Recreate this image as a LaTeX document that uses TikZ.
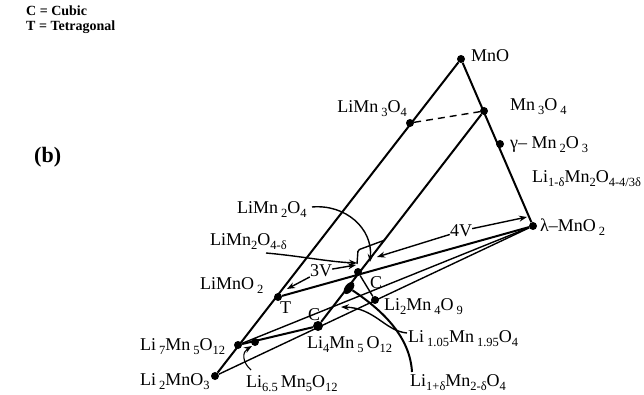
\documentclass[tikz,border=0pt]{standalone}
\usepackage{fontspec}
\setmainfont{Liberation Serif}
\usetikzlibrary{arrows.meta,shapes.geometric}
\newcommand{\sbs}[1]{\raisebox{-4pt}{\fontsize{12.5}{13}\selectfont #1}}
\begin{document}
\begin{tikzpicture}[x=1pt,y=-1pt,
  ln/.style={line width=2pt},
  tln/.style={line width=1.4pt},
  dot/.style={circle,fill=black,inner sep=0pt,minimum size=8pt},
  lbl/.style={font=\fontsize{18}{20}\selectfont, inner sep=0pt},
  arr/.style={-{Stealth[length=8pt,width=6pt]}, line width=1.4pt}
]
\useasboundingbox (0,0) rectangle (644,395);
% legend
\node[lbl, font=\fontsize{14}{16}\selectfont\bfseries, anchor=base west] (legC) at (26,16) {C = Cubic};
\node[lbl, font=\fontsize{14}{16}\selectfont\bfseries, anchor=base west] (legT) at (26,31) {T = Tetragonal};
\node[lbl, font=\fontsize{22}{24}\selectfont\bfseries, anchor=base west] (b) at (34,163) {(b)};
% points
\node[dot] (MnO) at (461,59) {};
\node[dot] (Mn3O4) at (484,111) {};
\node[dot] (gMn) at (500,144) {};
\node[dot] (lam) at (533,226) {};
\node[dot] (LiMn3O4) at (410,123) {};
\node[dot] (LiMnO2) at (278,297) {};
\node[dot] (Li7) at (238,345) {};
\node[dot] (Li2MnO3) at (215,376) {};
\node[dot] (Li65) at (255,342) {};
\node[dot, minimum size=10pt] (Li4) at (318,326) {};
\node[dot] (LiMn2O4) at (358,272) {};
\node[ellipse, fill=black, inner sep=0pt, minimum width=8pt, minimum height=14pt, rotate=-38] (Li105) at (349,288) {};
\node[dot] (Li2Mn4O9) at (375,300) {};
% tie lines
\draw[ln] (MnO) -- (Li2MnO3);
\draw[ln] (MnO) -- (lam);
\draw[ln] (Mn3O4) -- (Li4);
\draw[tln, dash pattern=on 7pt off 5pt] (LiMn3O4) -- (Mn3O4);
\draw[ln] (LiMnO2) -- (lam);
\draw[tln] (Li7) -- (lam);
\draw[tln] (Li2MnO3) -- (lam);
\draw[ln] (Li7) -- (Li4);
\draw[tln] (LiMn2O4) -- (Li2Mn4O9);
\draw[tln, rounded corners=1.5pt] (385,240) -- (358,250) -- (357,264);
% labels
\node[lbl, anchor=base west] (tMnO) at (471,62) {MnO};
\node[lbl, anchor=base west] (tMn3O4) at (510,111) {Mn\,\sbs{3}O\,\sbs{4}};
\node[lbl, anchor=base west] (tgMn) at (510,149) {γ– Mn\,\sbs{2}O\,\sbs{3}};
\node[lbl, anchor=base west] (tLid) at (532,183) {Li\sbs{1-δ}Mn\sbs{2}O\sbs{4-4/3δ}};
\node[lbl, anchor=base west] (tlam) at (540,231) {λ–MnO\,\sbs{2}};
\node[lbl, anchor=base east] (tLiMn3O4) at (407,113) {LiMn\,\sbs{3}O\sbs{4}};
\node[lbl, anchor=base west] (tLiMn2O4) at (237,213) {LiMn\,\sbs{2}O\sbs{4}};
\node[lbl, anchor=base west] (tLiMn2O4d) at (210,245) {LiMn\sbs{2}O\sbs{4-δ}};
\node[lbl, anchor=base west] (tLiMnO2) at (200,289) {LiMnO\,\sbs{2}};
\node[lbl, anchor=base west] (tT) at (280,313) {T};
\node[lbl, anchor=base west] (tC1) at (370,288) {C};
\node[lbl, anchor=base west] (tC2) at (308,320) {C};
\node[lbl] (v3) at (321,271) {3V};
\node[lbl] (v4) at (461,231) {4V};
\node[lbl, anchor=base west] (tLi2Mn4O9) at (384,310) {Li\sbs{2}Mn\,\sbs{4}O\,\sbs{9}};
\node[lbl, anchor=base west] (tLi105) at (408,342) {Li\,\sbs{1.05}Mn\,\sbs{1.95}O\sbs{4}};
\node[lbl, anchor=base west] (tLid2) at (410,386) {Li\sbs{1+δ}Mn\sbs{2-δ}O\sbs{4}};
\node[lbl, anchor=base west] (tLi4) at (307,348) {Li\sbs{4}Mn\,\sbs{5}\,O\sbs{12}};
\node[lbl, anchor=base west] (tLi65) at (246,387) {Li\sbs{6.5}\,Mn\sbs{5}O\sbs{12}};
\node[lbl, anchor=base west] (tLi7) at (140,350) {Li\,\sbs{7}Mn\,\sbs{5}O\sbs{12}};
\node[lbl, anchor=base west] (tLi2MnO3) at (140,385) {Li\,\sbs{2}MnO\sbs{3}};
% arrows
\coordinate (v3l) at (287,289);
\coordinate (v3r) at (356,265);
\coordinate (v4l) at (377,257);
\coordinate (v4r) at (527,217);
\draw[arr] (v3) -- (v3l);
\draw[arr] (v3) -- (v3r);
\draw[arr] (v4) -- (v4l);
\draw[arr] (v4) -- (v4r);
\coordinate (a1s) at (312,207);
\coordinate (a1e) at (370,262);
\draw[arr] (a1s) .. controls (345,204) and (373,228) .. (a1e);
\coordinate (a2s) at (266,253);
\coordinate (a2e) at (357,263);
\draw[arr] (a2s) .. controls (300,256) and (330,262) .. (a2e);
\coordinate (a3s) at (407,333);
\coordinate (a3e) at (341,307);
\draw[arr] (a3s) .. controls (385,331) and (375,308) .. (a3e);
\coordinate (a4s) at (412,372);
\draw[ln] (a4s) .. controls (410,338) and (385,312) .. (Li105);
\coordinate (a5s) at (251,370);
\coordinate (a5e) at (252,346);
\draw[arr, line width=1.1pt] (a5s) .. controls (242,362) and (242,352) .. (a5e);
\end{tikzpicture}
\end{document}
